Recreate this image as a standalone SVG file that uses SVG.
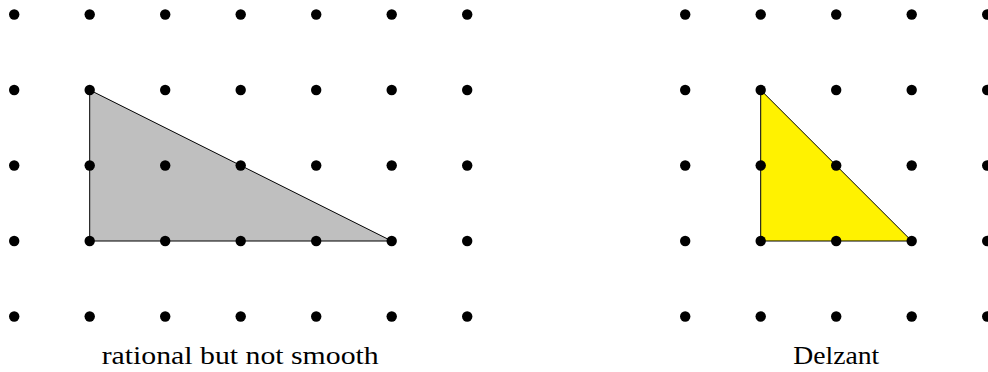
<svg xmlns="http://www.w3.org/2000/svg" width="988" height="372" viewBox="0 0 988 372">
<defs>
<style>
.dot{fill:#000}
.poly{stroke:#000;stroke-width:1;stroke-linejoin:round}
.lbl{font-family:"Liberation Serif","DejaVu Serif",serif;font-size:25px;fill:#000}
</style>
<circle id="d" r="5.2" class="dot"/>
</defs>
<rect width="988" height="372" fill="#fff"/>
<g id="left-polygon">
<polygon class="poly" fill="#bfbfbf" points="89.7,90 89.7,241 391.7,241"/>
</g>
<g id="right-polygon">
<polygon class="poly" fill="#fff200" points="760.7,90 760.7,241 911.7,241"/>
</g>
<g id="left-grid">
<use href="#d" x="14.2" y="14.5"/><use href="#d" x="89.7" y="14.5"/><use href="#d" x="165.2" y="14.5"/><use href="#d" x="240.7" y="14.5"/><use href="#d" x="316.2" y="14.5"/><use href="#d" x="391.7" y="14.5"/><use href="#d" x="467.2" y="14.5"/>
<use href="#d" x="14.2" y="90"/><use href="#d" x="89.7" y="90"/><use href="#d" x="165.2" y="90"/><use href="#d" x="240.7" y="90"/><use href="#d" x="316.2" y="90"/><use href="#d" x="391.7" y="90"/><use href="#d" x="467.2" y="90"/>
<use href="#d" x="14.2" y="165.5"/><use href="#d" x="89.7" y="165.5"/><use href="#d" x="165.2" y="165.5"/><use href="#d" x="240.7" y="165.5"/><use href="#d" x="316.2" y="165.5"/><use href="#d" x="391.7" y="165.5"/><use href="#d" x="467.2" y="165.5"/>
<use href="#d" x="14.2" y="241"/><use href="#d" x="89.7" y="241"/><use href="#d" x="165.2" y="241"/><use href="#d" x="240.7" y="241"/><use href="#d" x="316.2" y="241"/><use href="#d" x="391.7" y="241"/><use href="#d" x="467.2" y="241"/>
<use href="#d" x="14.2" y="316.5"/><use href="#d" x="89.7" y="316.5"/><use href="#d" x="165.2" y="316.5"/><use href="#d" x="240.7" y="316.5"/><use href="#d" x="316.2" y="316.5"/><use href="#d" x="391.7" y="316.5"/><use href="#d" x="467.2" y="316.5"/>
</g>
<g id="right-grid">
<use href="#d" x="685.2" y="14.5"/><use href="#d" x="760.7" y="14.5"/><use href="#d" x="836.2" y="14.5"/><use href="#d" x="911.7" y="14.5"/><use href="#d" x="987.2" y="14.5"/>
<use href="#d" x="685.2" y="90"/><use href="#d" x="760.7" y="90"/><use href="#d" x="836.2" y="90"/><use href="#d" x="911.7" y="90"/><use href="#d" x="987.2" y="90"/>
<use href="#d" x="685.2" y="165.5"/><use href="#d" x="760.7" y="165.5"/><use href="#d" x="836.2" y="165.5"/><use href="#d" x="911.7" y="165.5"/><use href="#d" x="987.2" y="165.5"/>
<use href="#d" x="685.2" y="241"/><use href="#d" x="760.7" y="241"/><use href="#d" x="836.2" y="241"/><use href="#d" x="911.7" y="241"/><use href="#d" x="987.2" y="241"/>
<use href="#d" x="685.2" y="316.5"/><use href="#d" x="760.7" y="316.5"/><use href="#d" x="836.2" y="316.5"/><use href="#d" x="911.7" y="316.5"/><use href="#d" x="987.2" y="316.5"/>
</g>
<g id="labels">
<text class="lbl" x="101.7" y="364" textLength="277" lengthAdjust="spacingAndGlyphs">rational but not smooth</text>
<text class="lbl" x="793.3" y="364" textLength="86" lengthAdjust="spacingAndGlyphs">Delzant</text>
</g>
</svg>
